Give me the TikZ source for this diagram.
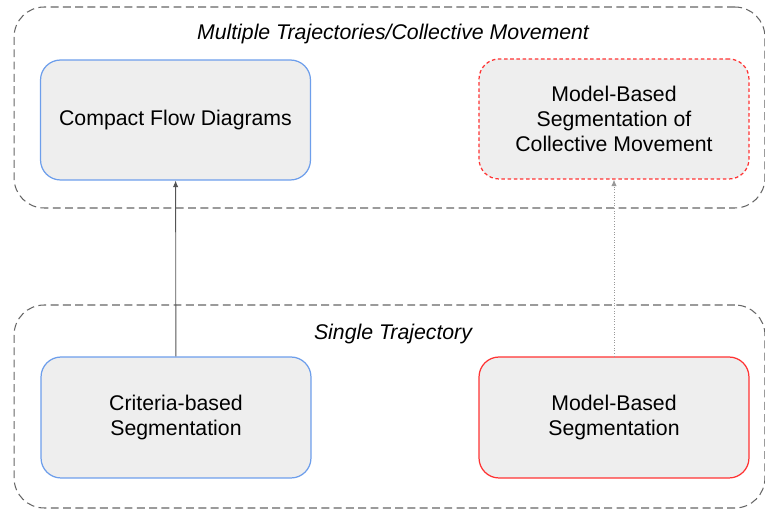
\documentclass[tikz,border=0pt]{standalone}
\usepackage{fontspec}
\setmainfont{Liberation Sans}
\usepackage{xcolor}
\usetikzlibrary{positioning,arrows.meta}

\definecolor{boxfill}{HTML}{EEEEEE}
\definecolor{boxblue}{HTML}{6D9EEB}
\definecolor{boxred}{HTML}{FF3333}
\definecolor{grpline}{HTML}{666666}
\definecolor{arrline}{HTML}{555555}

\begin{document}
\begin{tikzpicture}[
  x=0.02cm, y=-0.02cm,
  font=\fontsize{12.1}{14.4}\selectfont,
  grp/.style={draw=grpline, line width=0.6pt, dash pattern=on 4.5pt off 2.5pt, rounded corners=0.6cm, minimum width=15.02cm, inner sep=0pt},
  blk/.style={draw=boxblue, fill=boxfill, line width=0.7pt, rounded corners=0.4cm, minimum width=5.4cm, minimum height=2.4cm, align=center, inner sep=0pt},
  mblk/.style={blk, draw=boxred},
  ttl/.style={font=\fontsize{12.1}{14.4}\selectfont\itshape},
  arr/.style={-{Latex[length=1.3mm,width=1.1mm]}, draw=arrline, line width=0.5pt}
]
  \useasboundingbox (0,0) rectangle (765,509);

  % groups
  \node[grp, minimum height=4.02cm] (multi) at (389.5,107.5) {};
  \node[grp, minimum height=4.06cm] (single) at (389.5,406.5) {};
  \node[ttl] (multittl) at (393,34) {Multiple Trajectories/Collective Movement};
  \node[ttl] (singlettl) at (393,334) {Single Trajectory};

  % blocks
  \node[blk] (cfd) at (175.5,120) {Compact Flow Diagrams};
  \node[mblk, dash pattern=on 2pt off 1.5pt] (mbscm) at (614,119) {Model-Based\\Segmentation of\\Collective Movement};
  \node[blk, minimum height=2.42cm] (crit) at (176,417.5) {Criteria-based\\Segmentation};
  \node[mblk, minimum height=2.42cm] (mbs) at (614,417.5) {Model-Based\\Segmentation};

  % links
  \draw[arr] (crit) -- (cfd);
  \draw[arr, densely dotted, draw=gray!80] (mbs) -- (mbscm);
\end{tikzpicture}
\end{document}
